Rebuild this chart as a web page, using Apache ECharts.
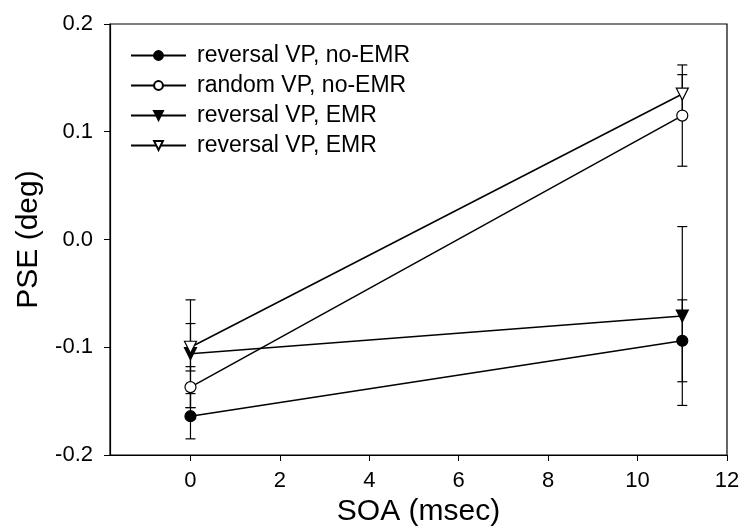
<!DOCTYPE html>
<html>
<head>
<meta charset="utf-8">
<script src="https://cdn.jsdelivr.net/npm/echarts@6/dist/echarts.min.js"></script>
<style>html,body{margin:0;padding:0;background:#fff;}#c{width:743px;height:527px;}</style>
</head>
<body>
<div id="c"></div>
<script>
var soa = [0, 11];
var seriesNames = ['reversal VP, no-EMR', 'random VP, no-EMR', 'reversal VP, EMR', 'reversal VP, EMR '];
var revNoEmr = [-0.164, -0.094];
var randNoEmr = [-0.137, 0.115];
var revEmrA = [-0.106, -0.071];
var revEmrB = [-0.100, 0.135];
var errRevNoEmr = [0.021, 0.038];
var errRandNoEmr = [0.019, 0.047];
var errRevEmrA = [0.050, 0.083];
var errRevEmrB = [0.022, 0.018];
var xTicks = [0, 2, 4, 6, 8, 10, 12];
var yTicks = [-0.2, -0.1, 0.0, 0.1, 0.2];

var font = 'Liberation Sans, Arial, Helvetica, sans-serif';
var values = [revNoEmr, randNoEmr, revEmrA, revEmrB];
var errs = [errRevNoEmr, errRandNoEmr, errRevEmrA, errRevEmrB];
var markers = [
  {symbol: 'circle', fill: '#000', rot: 0, size: 11},
  {symbol: 'circle', fill: '#fff', rot: 0, size: 11},
  {symbol: 'triangle', fill: '#000', rot: 180, size: 12},
  {symbol: 'triangle', fill: '#fff', rot: 180, size: 12}
];

var series = [];
values.forEach(function (vals, i) {
  var errData = soa.map(function (x, k) { return [x, vals[k] - errs[i][k], vals[k] + errs[i][k]]; });
  series.push({
    type: 'custom',
    silent: true,
    z: 1,
    data: errData,
    encode: {x: 0, y: [1, 2]},
    renderItem: function (params, api) {
      var x = api.value(0);
      var lo = api.coord([x, api.value(1)]);
      var hi = api.coord([x, api.value(2)]);
      var w = 5;
      var st = {stroke: '#000', lineWidth: 1.2};
      return {
        type: 'group',
        children: [
          {type: 'line', shape: {x1: lo[0], y1: lo[1], x2: hi[0], y2: hi[1]}, style: st},
          {type: 'line', shape: {x1: lo[0] - w, y1: lo[1], x2: lo[0] + w, y2: lo[1]}, style: st},
          {type: 'line', shape: {x1: hi[0] - w, y1: hi[1], x2: hi[0] + w, y2: hi[1]}, style: st}
        ]
      };
    }
  });
});
values.forEach(function (vals, i) {
  var m = markers[i];
  series.push({
    type: 'line',
    name: seriesNames[i],
    z: 3,
    data: soa.map(function (x, k) { return [x, vals[k]]; }),
    symbol: m.symbol,
    symbolSize: m.size,
    symbolRotate: m.rot,
    showAllSymbol: true,
    lineStyle: {color: '#000', width: 1.5},
    itemStyle: {color: m.fill, borderColor: '#000', borderWidth: 1.2},
    emphasis: {disabled: true},
    animation: false
  });
});

var chart = echarts.init(document.getElementById('c'), null, {renderer: 'canvas'});
chart.setOption({
  animation: false,
  backgroundColor: '#fff',
  grid: {left: 110, right: 16, top: 24, bottom: 72, outerBoundsMode: 'none', containLabel: false,
    show: true, borderColor: '#000', borderWidth: 1.2, backgroundColor: 'transparent'},
  legend: {
    data: seriesNames,
    orient: 'vertical',
    left: 125,
    top: 39,
    itemGap: 7,
    itemWidth: 55,
    itemHeight: 11,
    selectedMode: false,
    textStyle: {fontFamily: font, fontSize: 23, color: '#000', padding: [0, 0, 0, 6]}
  },
  xAxis: {
    type: 'value',
    min: -1.8,
    max: 12,
    name: 'SOA (msec)',
    nameLocation: 'middle',
    nameGap: 35,
    nameTextStyle: {fontFamily: font, fontSize: 30, color: '#000'},
    axisLine: {show: true, onZero: false, lineStyle: {color: '#000', width: 1.2}},
    axisTick: {show: true, inside: false, length: 6, customValues: xTicks, lineStyle: {color: '#000'}},
    axisLabel: {customValues: xTicks, fontFamily: font, fontSize: 22, color: '#000', margin: 15},
    splitLine: {show: false}
  },
  yAxis: {
    type: 'value',
    min: -0.2,
    max: 0.2,
    name: 'PSE (deg)',
    nameLocation: 'middle',
    nameGap: 66,
    nameTextStyle: {fontFamily: font, fontSize: 30, color: '#000'},
    axisLine: {show: true, onZero: false, lineStyle: {color: '#000', width: 1.2}},
    axisTick: {show: true, inside: false, length: 6, customValues: yTicks, lineStyle: {color: '#000'}},
    axisLabel: {customValues: yTicks, fontFamily: font, fontSize: 22, color: '#000', margin: 17,
      formatter: function (v) { return v.toFixed(1); }},
    splitLine: {show: false}
  },
  series: series
});
</script>
</body>
</html>
